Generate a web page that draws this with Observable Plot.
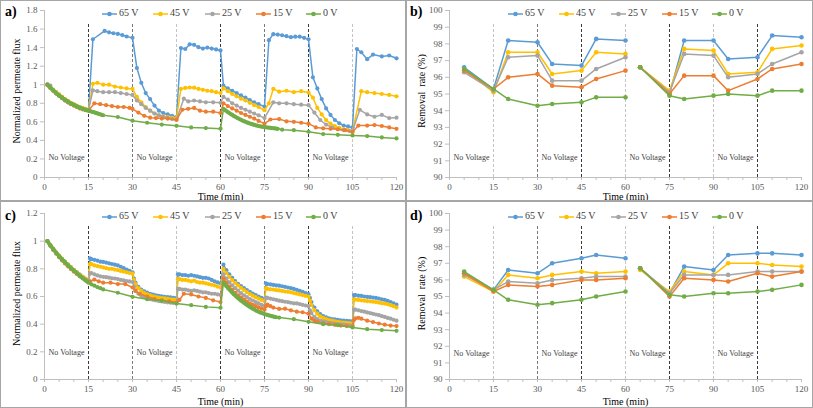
<!DOCTYPE html>
<html><head><meta charset="utf-8">
<script src="https://cdn.jsdelivr.net/npm/d3@7"></script>
<script src="https://cdn.jsdelivr.net/npm/@observablehq/plot@0.6"></script>
<style>
body{margin:0;background:#fff;}
#fig{position:relative;width:813px;height:408px;overflow:hidden;background:#fff;font-family:"Liberation Serif","DejaVu Serif",Times,serif;}
.panel{position:absolute;overflow:hidden;}
.panel svg{position:absolute;left:0;top:0;overflow:visible;}
.panel svg, .panel svg text{font-family:"Liberation Serif","DejaVu Serif",Times,serif !important;}
.letter{position:absolute;font-weight:bold;font-size:14px;line-height:14px;color:#000;}
.leg{position:absolute;font-size:10px;line-height:10px;color:#404040;white-space:nowrap;}
.leg svg{position:static;vertical-align:middle;}
.bd{position:absolute;background:#a6a6a6;}
</style></head>
<body><div id="fig"></div>
<script>
// ---------- data ----------
const seriesNames = ["65 V","45 V","25 V","15 V","0 V"];
const seriesColors = ["#5B9BD5","#FFC000","#A5A5A5","#ED7D31","#70AD47"];
const xTickLabels = [0,15,30,45,60,75,90,105,120];
const phaseBounds = [15,30,45,60,75,90,105];
const noVoltageAt = [7.5,37.5,67.5,97.5];
const fluxTicksA = [0,0.2,0.4,0.6,0.8,1,1.2,1.4,1.6,1.8];
const fluxTicksC = [0,0.2,0.4,0.6,0.8,1,1.2];
const removalTicks = [90,91,92,93,94,95,96,97,98,99,100];
const removalTimes = [5,15,20,30,35,45,50,60,65,75,80,90,95,105,110,120];

// panel a: normalized flux [time, value]
const fluxA65 = [[1,1.00],[2,0.97],[3,0.94],[4,0.915],[5,0.89],[6,0.865],[7,0.84],[8,0.82],[9,0.80],[10,0.785],[11,0.77],[12,0.755],[13,0.745],[14,0.735],[15,0.73],
[16.5,1.49],[20.5,1.58],[22,1.565],[23.5,1.555],[25,1.548],[26.5,1.535],[28,1.52],[30,1.505],
[31.5,1.18],[33,1.02],[34.5,0.91],[36,0.845],[37.5,0.775],[39,0.72],[40.5,0.695],[42,0.68],[43.5,0.665],[45,0.65],
[46.5,1.395],[48,1.385],[49.5,1.435],[51,1.43],[52.5,1.405],[54,1.39],[55.5,1.40],[57,1.39],[58.5,1.38],[60,1.37],
[61,0.99],[62.5,0.96],[64,0.935],[65.5,0.91],[67,0.885],[68.5,0.86],[70,0.835],[71.5,0.81],[73,0.79],[75,0.765],
[76.5,1.48],[78,1.545],[79.5,1.54],[81,1.533],[82.5,1.523],[84,1.512],[85.5,1.518],[87,1.518],[88.5,1.505],[90,1.49],
[91.5,1.08],[93,0.96],[94.5,0.845],[96,0.745],[97.5,0.675],[99,0.62],[100.5,0.585],[102,0.56],[103.5,0.55],[105,0.54],
[106.5,1.385],[108,1.35],[110,1.275],[112,1.325],[115,1.305],[117.5,1.315],[120,1.285]];
const fluxA45 = [[1,1.00],[2,0.97],[3,0.945],[4,0.92],[5,0.895],[6,0.87],[7,0.845],[8,0.825],[9,0.805],[10,0.79],[11,0.775],[12,0.76],[13,0.75],[14,0.74],[15,0.73],
[16.5,1.01],[18,1.02],[20,1.0],[22,1.0],[24,0.98],[26,0.97],[28,0.96],[30,0.955],
[31.5,0.87],[33,0.81],[34.5,0.76],[36,0.72],[37.5,0.69],[39,0.67],[40.5,0.66],[42,0.65],[43.5,0.645],[45,0.64],
[46.5,0.955],[48,0.965],[49.5,0.97],[51,0.968],[52.5,0.955],[54,0.945],[55.5,0.935],[57,0.93],[58.5,0.92],[60,0.91],
[61,0.96],[62.5,0.93],[64,0.9],[65.5,0.875],[67,0.85],[68.5,0.83],[70,0.805],[71.5,0.78],[73,0.76],[75,0.725],
[76.5,0.80],[78,0.955],[80,0.925],[82.5,0.935],[85,0.92],[87.5,0.93],[90,0.915],
[91.5,0.86],[93,0.75],[94.5,0.68],[96,0.62],[97.5,0.58],[99,0.555],[100.5,0.535],[102,0.52],[103.5,0.51],[105,0.50],
[108,0.93],[110,0.92],[112.5,0.91],[115,0.9],[117.5,0.89],[120,0.875]];
const fluxA25 = [[1,1.00],[2,0.99],[3,0.935],[4,0.905],[5,0.88],[6,0.855],[7,0.83],[8,0.81],[9,0.795],[10,0.78],[11,0.765],[12,0.75],[13,0.74],[14,0.73],[15,0.725],
[16.5,0.94],[18,0.93],[20,0.92],[22,0.92],[24,0.92],[26,0.91],[28,0.90],[30,0.89],
[31.5,0.83],[33,0.79],[34.5,0.75],[36,0.72],[37.5,0.69],[39,0.67],[40.5,0.655],[42,0.64],[43.5,0.63],[45,0.625],
[47.5,0.85],[49,0.82],[51,0.83],[53,0.82],[55,0.81],[57.5,0.81],[60,0.805],
[61,0.87],[62.5,0.84],[64,0.80],[65.5,0.775],[67,0.75],[68.5,0.73],[70,0.71],[71.5,0.69],[73,0.67],[75,0.64],
[78,0.81],[80,0.80],[82.5,0.80],[85,0.79],[87.5,0.785],[90,0.78],
[92,0.70],[94,0.62],[96,0.57],[98,0.54],[100,0.52],[102,0.51],[104,0.50],[105,0.50],
[107.5,0.73],[110,0.68],[112.5,0.655],[115,0.675],[117.5,0.64],[120,0.645]];
const fluxA15 = [[1,1.00],[2,0.965],[3,0.935],[4,0.905],[5,0.88],[6,0.855],[7,0.83],[8,0.81],[9,0.79],[10,0.775],[11,0.76],[12,0.745],[13,0.735],[14,0.725],[15,0.72],
[17,0.80],[19,0.79],[21,0.78],[23,0.77],[25,0.76],[27,0.76],[29,0.75],[30,0.74],
[32,0.70],[34,0.665],[36,0.645],[38,0.64],[40,0.635],[42,0.635],[45,0.62],
[47,0.73],[49,0.74],[51,0.75],[53,0.72],[55,0.71],[57.5,0.71],[60,0.695],
[61,0.80],[62.5,0.77],[64,0.745],[65.5,0.72],[67,0.695],[68.5,0.675],[70,0.655],[71.5,0.635],[73,0.61],[75,0.58],
[77,0.625],[80,0.63],[82.5,0.605],[85,0.60],[87.5,0.59],[90,0.58],
[92.5,0.54],[95,0.53],[97.5,0.525],[100,0.52],[102.5,0.51],[105,0.49],
[107,0.56],[110,0.56],[112.5,0.565],[115,0.555],[117.5,0.54],[120,0.525]];
const fluxA0 = [[1,1.000],[1.5,0.984],[2,0.968],[2.5,0.953],[3,0.938],[3.5,0.924],[4,0.910],[4.5,0.897],[5,0.884],[5.5,0.872],[6,0.860],[6.5,0.849],[7,0.838],[7.5,0.828],[8,0.818],[8.5,0.808],[9,0.799],[9.5,0.790],[10,0.782],[10.5,0.774],[11,0.767],[11.5,0.760],[12,0.753],[12.5,0.747],[13,0.741],[13.5,0.735],[14,0.730],[14.5,0.725],[15,0.720],
[15.5,0.715],[16,0.711],[16.5,0.706],[17,0.701],[17.5,0.696],[18,0.691],[18.5,0.686],[19,0.681],[19.5,0.676],[20,0.671],
[25,0.652],[30,0.612],[35,0.59],[40,0.57],[45,0.557],[50,0.54],[55,0.533],[60,0.526],
[61,0.740],[61.5,0.728],[62,0.716],[62.5,0.705],[63,0.694],[63.5,0.684],[64,0.674],[64.5,0.664],[65,0.655],[65.5,0.646],[66,0.638],[66.5,0.630],[67,0.622],[67.5,0.614],[68,0.607],[68.5,0.600],[69,0.594],[69.5,0.588],[70,0.582],[70.5,0.577],[71,0.572],[71.5,0.567],[72,0.563],[72.5,0.559],[73,0.555],[73.5,0.552],[74,0.549],[74.5,0.546],[75,0.543],
[75.5,0.541],[76,0.539],[76.5,0.537],[77,0.535],[77.5,0.533],[78,0.531],[78.5,0.529],[79,0.527],[79.5,0.525],
[81,0.515],[85,0.51],[90,0.493],[95,0.468],[100,0.46],[105,0.454],[110,0.446],[115,0.432],[120,0.421]];

// panel c: normalized flux [time, value]
const fluxC65 = [[1,1.0],[2,0.97],[3,0.942],[4,0.916],[5,0.892],[6,0.87],[7,0.85],[8,0.83],[9,0.81],[10,0.792],[11,0.775],[12,0.758],[13,0.742],[14,0.728],[15,0.715],
[15.5,0.875],[16,0.87],[17,0.865],[18,0.86],[19,0.852],[20,0.85],[21,0.845],[22,0.84],[23,0.835],[24,0.83],[25,0.825],[26,0.815],[27,0.805],[28,0.795],[29,0.785],[30,0.775],
[30.5,0.73],[31,0.7],[32,0.67],[33,0.65],[34,0.638],[35,0.628],[36,0.62],[37,0.614],[38,0.609],[39,0.605],[40,0.601],[41,0.598],[42,0.595],[43,0.593],[44,0.59],[45,0.588],
[45.5,0.76],[46,0.76],[47,0.755],[48,0.755],[49,0.75],[50,0.755],[51,0.75],[52,0.745],[53,0.74],[54,0.735],[55,0.735],[56,0.73],[57,0.72],[58,0.71],[59,0.702],[60,0.695],
[61,0.83],[62,0.79],[63,0.76],[64,0.735],[65,0.712],[66,0.692],[67,0.675],[68,0.66],[69,0.646],[70,0.633],[71,0.621],[72,0.61],[73,0.6],[74,0.59],[75,0.582],
[75.5,0.695],[76,0.69],[77,0.687],[78,0.684],[79,0.68],[80,0.678],[81,0.674],[82,0.67],[83,0.665],[84,0.66],[85,0.655],[86,0.648],[87,0.64],[88,0.634],[89,0.625],[90,0.617],
[90.5,0.59],[91,0.56],[92,0.52],[93,0.492],[94,0.472],[95,0.458],[96,0.449],[97,0.442],[98,0.437],[99,0.434],[100,0.431],[101,0.428],[102,0.426],[103,0.424],[104,0.422],[105,0.42],
[105.5,0.61],[106,0.61],[107,0.606],[108,0.604],[109,0.6],[110,0.598],[111,0.595],[112,0.592],[113,0.59],[114,0.585],[115,0.58],[116,0.575],[117,0.568],[118,0.56],[119,0.55],[120,0.542]];
const fluxC45 = [[1,1.0],[2,0.972],[3,0.945],[4,0.92],[5,0.896],[6,0.873],[7,0.852],[8,0.832],[9,0.812],[10,0.793],[11,0.776],[12,0.759],[13,0.743],[14,0.729],[15,0.716],
[15.5,0.835],[16,0.835],[17,0.825],[18,0.82],[19,0.815],[20,0.81],[21,0.805],[22,0.8],[23,0.8],[24,0.795],[25,0.79],[26,0.785],[27,0.78],[28,0.775],[29,0.77],[30,0.765],
[30.5,0.72],[31,0.69],[32,0.66],[33,0.64],[34,0.625],[35,0.615],[36,0.608],[37,0.601],[38,0.596],[39,0.592],[40,0.589],[41,0.586],[42,0.583],[43,0.58],[44,0.578],[45,0.575],
[45.5,0.725],[46,0.725],[47,0.72],[48,0.72],[49,0.715],[50,0.71],[51,0.715],[52,0.705],[53,0.7],[54,0.7],[55,0.695],[56,0.69],[57,0.685],[58,0.68],[59,0.672],[60,0.665],
[61,0.8],[62,0.77],[63,0.742],[64,0.719],[65,0.698],[66,0.68],[67,0.663],[68,0.647],[69,0.632],[70,0.618],[71,0.606],[72,0.595],[73,0.585],[74,0.575],[75,0.567],
[75.5,0.66],[76,0.655],[77,0.652],[78,0.65],[79,0.646],[80,0.644],[81,0.64],[82,0.636],[83,0.634],[84,0.63],[85,0.625],[86,0.62],[87,0.615],[88,0.61],[89,0.605],[90,0.6],
[90.5,0.57],[91,0.54],[92,0.502],[93,0.476],[94,0.457],[95,0.445],[96,0.436],[97,0.43],[98,0.425],[99,0.421],[100,0.417],[101,0.414],[102,0.411],[103,0.409],[104,0.407],[105,0.405],
[105.5,0.578],[106,0.578],[107,0.575],[108,0.572],[109,0.57],[110,0.567],[111,0.565],[112,0.562],[113,0.56],[114,0.556],[115,0.552],[116,0.549],[117,0.544],[118,0.537],[119,0.53],[120,0.52]];
const fluxC25 = [[1,1.0],[2,0.968],[3,0.94],[4,0.913],[5,0.888],[6,0.865],[7,0.843],[8,0.823],[9,0.803],[10,0.785],[11,0.768],[12,0.752],[13,0.737],[14,0.723],[15,0.71],
[15.5,0.765],[16,0.77],[17,0.76],[18,0.752],[19,0.746],[20,0.742],[21,0.74],[22,0.736],[23,0.732],[24,0.73],[25,0.726],[26,0.72],[27,0.716],[28,0.712],[29,0.709],[30,0.705],
[30.5,0.67],[31,0.642],[32,0.62],[33,0.605],[34,0.595],[35,0.588],[36,0.581],[37,0.576],[38,0.571],[39,0.567],[40,0.564],[41,0.561],[42,0.558],[43,0.555],[44,0.553],[45,0.55],
[45.5,0.655],[46,0.655],[47,0.65],[48,0.65],[49,0.645],[50,0.64],[51,0.645],[52,0.64],[53,0.635],[54,0.63],[55,0.63],[56,0.625],[57,0.62],[58,0.62],[59,0.615],[60,0.61],
[61,0.76],[62,0.73],[63,0.703],[64,0.68],[65,0.66],[66,0.642],[67,0.625],[68,0.609],[69,0.595],[70,0.582],[71,0.571],[72,0.56],[73,0.55],[74,0.54],[75,0.532],
[75.5,0.592],[76,0.59],[77,0.585],[78,0.58],[79,0.575],[80,0.57],[81,0.566],[82,0.562],[83,0.56],[84,0.555],[85,0.551],[86,0.55],[87,0.545],[88,0.54],[89,0.535],[90,0.53],
[90.5,0.5],[91,0.48],[92,0.452],[93,0.436],[94,0.426],[95,0.42],[96,0.415],[97,0.41],[98,0.406],[99,0.404],[100,0.401],[101,0.399],[102,0.396],[103,0.394],[104,0.392],[105,0.39],
[105.5,0.505],[106,0.505],[107,0.5],[108,0.495],[109,0.49],[110,0.485],[111,0.48],[112,0.475],[113,0.47],[114,0.465],[115,0.458],[116,0.452],[117,0.445],[118,0.44],[119,0.432],[120,0.425]];
const fluxC15 = [[1,1.0],[2,0.966],[3,0.937],[4,0.91],[5,0.884],[6,0.861],[7,0.839],[8,0.818],[9,0.798],[10,0.78],[11,0.763],[12,0.747],[13,0.732],[14,0.718],[15,0.705],
[15.5,0.71],[17,0.722],[18.5,0.71],[20,0.7],[22.5,0.7],[25,0.69],[27.5,0.69],[30,0.665],
[31,0.64],[32.5,0.62],[35,0.6],[37.5,0.582],[40,0.572],[42.5,0.565],[45,0.556],
[46,0.575],[47.5,0.62],[50,0.615],[52.5,0.6],[55,0.59],[57.5,0.572],[60,0.56],
[61,0.73],[62,0.7],[63,0.672],[64,0.648],[65,0.627],[66,0.609],[67,0.592],[68,0.577],[69,0.563],[70,0.551],[71,0.54],[72,0.53],[73,0.521],[74,0.513],[75,0.505],
[75.5,0.53],[76,0.542],[77,0.53],[78,0.52],[80,0.51],[82,0.512],[84,0.5],[86,0.49],[88,0.486],[90,0.476],
[91,0.44],[92,0.425],[93,0.416],[95,0.406],[97,0.4],[99,0.395],[101,0.39],[103,0.386],[105,0.382],
[105.5,0.43],[106,0.442],[107,0.446],[108,0.44],[110,0.425],[112,0.415],[114,0.405],[116,0.396],[118,0.39],[120,0.386]];
const fluxC0 = [[1,1.000],[1.5,0.985],[2,0.970],[2.5,0.956],[3,0.942],[3.5,0.929],[4,0.916],[4.5,0.903],[5,0.891],[5.5,0.879],[6,0.868],[6.5,0.857],[7,0.846],[7.5,0.836],[8,0.826],[8.5,0.816],[9,0.806],[9.5,0.797],[10,0.788],[10.5,0.779],[11,0.770],[11.5,0.761],[12,0.750],[12.5,0.741],[13,0.732],[13.5,0.724],[14,0.716],[14.5,0.708],[15,0.700],
[16,0.688],[17,0.678],[18,0.668],[19,0.66],[20,0.651],[25,0.627],[30,0.598],[35,0.58],[40,0.569],[45,0.549],[50,0.537],[55,0.525],[60,0.518],
[61,0.700],[61.5,0.687],[62,0.674],[62.5,0.662],[63,0.650],[63.5,0.639],[64,0.628],[64.5,0.617],[65,0.607],[65.5,0.597],[66,0.588],[66.5,0.579],[67,0.570],[67.5,0.562],[68,0.554],[68.5,0.546],[69,0.539],[69.5,0.532],[70,0.525],[70.5,0.518],[71,0.512],[71.5,0.506],[72,0.500],[72.5,0.495],[73,0.490],[73.5,0.485],[74,0.481],[74.5,0.477],[75,0.473],
[75.5,0.47],[76,0.467],[76.5,0.464],[77,0.461],[77.5,0.458],[78,0.455],[78.5,0.452],[79,0.45],
[80,0.448],[85,0.436],[90,0.417],[95,0.4],[100,0.393],[105,0.376],[110,0.364],[115,0.357],[120,0.352]];

// panels b and d: removal rate (%) at removalTimes
const removalB65 = [96.6,95.3,98.2,98.1,96.8,96.7,98.3,98.2,96.6,95.0,98.2,98.2,97.1,97.2,98.5,98.4];
const removalB45 = [96.5,95.1,97.5,97.5,96.2,96.4,97.5,97.4,96.6,95.2,97.7,97.6,96.2,96.3,97.7,97.9];
const removalB25 = [96.3,95.2,97.2,97.3,95.8,95.8,96.5,97.2,96.6,95.1,97.4,97.3,96.0,96.2,96.8,97.5];
const removalB15 = [96.4,95.3,96.0,96.2,95.5,95.4,95.9,96.4,96.6,95.0,96.1,96.1,95.2,95.9,96.5,96.8];
const removalB0  = [96.5,95.3,94.7,94.3,94.4,94.5,94.8,94.8,96.6,94.9,94.7,94.9,95.0,94.9,95.2,95.2];
const removalD65 = [96.4,95.4,96.6,96.4,97.0,97.3,97.5,97.3,96.7,95.2,96.8,96.6,97.5,97.6,97.6,97.5];
const removalD45 = [96.2,95.3,96.3,96.1,96.3,96.5,96.4,96.5,96.6,95.3,96.5,96.3,97.0,97.0,96.9,96.8];
const removalD25 = [96.3,95.4,95.9,95.8,96.0,96.1,96.2,96.2,96.7,95.2,96.3,96.3,96.3,96.5,96.5,96.5];
const removalD15 = [96.4,95.3,95.7,95.6,95.7,96.0,96.0,96.1,96.7,95.0,96.1,96.0,95.9,96.4,96.2,96.5];
const removalD0  = [96.5,95.4,94.8,94.5,94.6,94.8,95.0,95.3,96.7,95.1,95.0,95.2,95.2,95.3,95.4,95.7];

// ---------- drawing ----------
const serif = '"Liberation Serif","DejaVu Serif",Times,serif';
const shadeAC = ["#3a3a3a","#7a7a7a","#c4c4c4","#3a3a3a","#7a7a7a","#3a3a3a","#c4c4c4"];
const shadeBD = ["#c4c4c4","#7a7a7a","#3a3a3a","#c4c4c4","#3a3a3a","#c4c4c4","#3a3a3a"];
const fmt = d3.format("~g");
const fig = document.getElementById("fig");

function removalTable(vals) {
  return removalTimes.map((t, i) => ({t, v: vals[i], seg: t <= 60 ? 0 : 1}));
}

function makePanel(cfg) {
  const div = document.createElement("div");
  div.className = "panel";
  Object.assign(div.style, {left: cfg.left + "px", top: cfg.top + "px", width: cfg.width + "px", height: cfg.height + "px"});
  const y0 = cfg.yDomain[0];
  const marks = [];
  phaseBounds.forEach((b, i) => {
    marks.push(Plot.ruleX([b], {y1: y0, y2: cfg.vTop, stroke: cfg.shades[i], strokeWidth: 1, strokeDasharray: "3,2"}));
  });
  marks.push(Plot.ruleX([0], {y1: cfg.yDomain[0], y2: cfg.yDomain[1], stroke: "#bfbfbf"}));
  marks.push(Plot.ruleY([y0], {stroke: "#bfbfbf"}));
  marks.push(Plot.axisY({ticks: cfg.yTicks, tickFormat: fmt, tickSize: 4, tickPadding: 3, stroke: "#bfbfbf", fill: "#595959", fontFamily: serif, fontSize: 9, label: null}));
  marks.push(Plot.axisX({ticks: d3.range(0, 121, 5), tickFormat: () => "", tickSize: 3, stroke: "#bfbfbf", label: null}));
  marks.push(Plot.axisX({ticks: xTickLabels, tickFormat: fmt, tickSize: 3, tickPadding: 3, stroke: "#bfbfbf", fill: "#595959", fontFamily: serif, fontSize: 9, label: null}));
  cfg.series.forEach((s, i) => {
    const color = seriesColors[i];
    if (cfg.removal) {
      const tab = removalTable(s);
      marks.push(Plot.line(tab, {x: "t", y: "v", z: "seg", stroke: color, strokeWidth: 1.5}));
      marks.push(Plot.dot(tab, {x: "t", y: "v", r: 2.3, fill: color}));
    } else {
      marks.push(Plot.line(s, {x: d => d[0], y: d => d[1], stroke: color, strokeWidth: 1.5}));
      marks.push(Plot.dot(s, {x: d => d[0], y: d => d[1], r: 2.1, fill: color}));
    }
  });
  marks.push(Plot.text(noVoltageAt, {x: d => d, y: cfg.nvY, text: () => "No Voltage", fontSize: 8, fontFamily: serif, fill: "#404040"}));
  marks.push(Plot.text([cfg.ylabel], {text: d => d, frameAnchor: "left", textAnchor: "middle", lineAnchor: "middle", rotate: -90, dx: -28, dy: -3, fontSize: 10, fontFamily: serif, fill: "#000"}));
  marks.push(Plot.text(["Time (min)"], {text: d => d, frameAnchor: "bottom", textAnchor: "middle", lineAnchor: "middle", dy: cfg.xlabelDy, fontSize: 10, fontFamily: serif, fontWeight: "normal", fill: "#000"}));

  const svg = Plot.plot({
    width: cfg.width, height: cfg.height,
    marginLeft: cfg.ml, marginRight: cfg.mr, marginTop: cfg.mt, marginBottom: cfg.mb,
    style: {fontFamily: serif, fontSize: "9px", background: "transparent", overflow: "visible"},
    x: {domain: [0, 120]},
    y: {domain: cfg.yDomain},
    marks
  });
  div.appendChild(svg);

  const letter = document.createElement("div");
  letter.className = "letter";
  letter.textContent = cfg.letter;
  letter.style.left = cfg.letterX + "px";
  letter.style.top = cfg.letterY + "px";
  div.appendChild(letter);

  const legStarts = [102, 153, 205, 256, 306];
  seriesNames.forEach((name, i) => {
    const item = document.createElement("div");
    item.className = "leg";
    item.style.left = legStarts[i] + "px";
    item.style.top = (cfg.legY - 5) + "px";
    item.innerHTML = `<svg width="15" height="10"><line x1="0" y1="5" x2="15" y2="5" stroke="${seriesColors[i]}" stroke-width="1.5"/><circle cx="7.5" cy="5" r="2.3" fill="${seriesColors[i]}"/></svg><span style="margin-left:2px">${name}</span>`;
    div.appendChild(item);
  });
  fig.appendChild(div);
}

makePanel({letter: "a)", left: 0, top: 0, width: 406, height: 201, ml: 44, mr: 10, mt: 10, mb: 24,
  yDomain: [0, 1.8], yTicks: fluxTicksA, vTop: 1.67, shades: shadeAC, nvY: 0.215, xlabelDy: 19,
  ylabel: "Normalized permeate flux", series: [fluxA65, fluxA45, fluxA25, fluxA15, fluxA0], removal: false,
  letterX: 5, letterY: 5, legY: 13});
makePanel({letter: "b)", left: 406, top: 0, width: 407, height: 201, ml: 43, mr: 12, mt: 10, mb: 24,
  yDomain: [90, 100], yTicks: removalTicks, vTop: 99.28, shades: shadeBD, nvY: 91.2, xlabelDy: 19,
  ylabel: "Removal  rate (%)", series: [removalB65, removalB45, removalB25, removalB15, removalB0], removal: true,
  letterX: 4, letterY: 5, legY: 13});
makePanel({letter: "c)", left: 0, top: 201, width: 406, height: 207, ml: 44, mr: 10, mt: 12, mb: 29,
  yDomain: [0, 1.2], yTicks: fluxTicksC, vTop: 1.11, shades: shadeAC, nvY: 0.195, xlabelDy: 22,
  ylabel: "Normalized permeate flux", series: [fluxC65, fluxC45, fluxC25, fluxC15, fluxC0], removal: false,
  letterX: 5, letterY: 8, legY: 15});
makePanel({letter: "d)", left: 406, top: 201, width: 407, height: 207, ml: 43, mr: 12, mt: 12, mb: 29,
  yDomain: [90, 100], yTicks: removalTicks, vTop: 99.28, shades: shadeBD, nvY: 91.6, xlabelDy: 22,
  ylabel: "Removal  rate (%)", series: [removalD65, removalD45, removalD25, removalD15, removalD0], removal: true,
  letterX: 4, letterY: 8, legY: 15});

// panel borders
[[0,0,813,1],[0,0,1,408],[0,407,813,1],[812,0,1,408],[0,200,813,2],[405,0,2,408]].forEach(([l,t,w,h]) => {
  const b = document.createElement("div");
  b.className = "bd";
  Object.assign(b.style, {left: l + "px", top: t + "px", width: w + "px", height: h + "px"});
  fig.appendChild(b);
});
</script></body></html>
